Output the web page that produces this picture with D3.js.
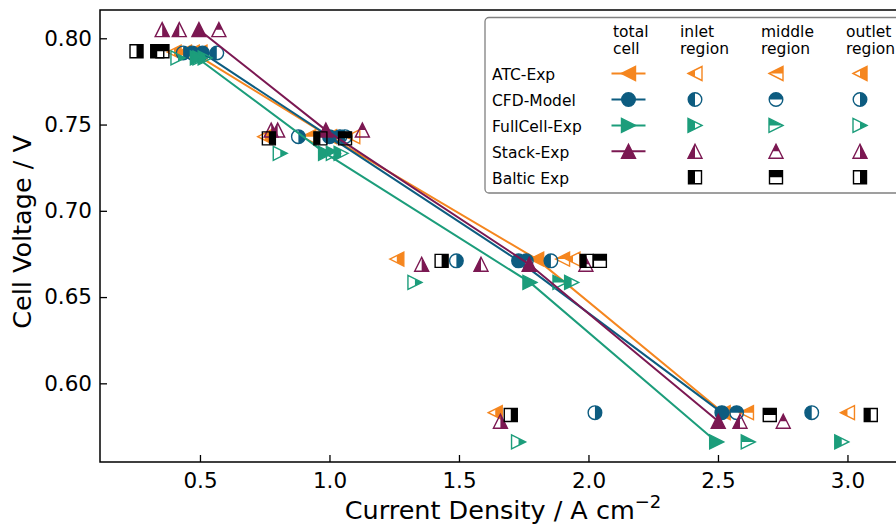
<!DOCTYPE html>
<html>
<head>
<meta charset="utf-8">
<script src="https://cdn.jsdelivr.net/npm/d3@7"></script>
<style>
  body { margin: 0; background: #fff; }
  svg { display: block; font-family: "DejaVu Sans", sans-serif; }
</style>
</head>
<body>
<svg id="chart" width="896" height="528"></svg>
<script>
// Polarisation data: cell voltage (V) against current density (A cm^-2)
const seriesNames  = ["ATC-Exp", "CFD-Model", "FullCell-Exp", "Stack-Exp", "Baltic Exp"];
const regionHeads  = [["total", "cell"], ["inlet", "region"], ["middle", "region"], ["outlet", "region"]];
const xTickValues  = [0.5, 1.0, 1.5, 2.0, 2.5, 3.0];
const yTickValues  = [0.60, 0.65, 0.70, 0.75, 0.80];

const atcVoltage    = [0.792, 0.743, 0.672, 0.583];
const atcTotal      = [0.47, 1.00, 1.80, 2.52];
const atcInlet      = [0.44, 1.09, 1.94, 3.00];
const atcMiddle     = [0.50, 0.92, 1.90, 2.61];
const atcOutlet     = [0.40, 0.75, 1.26, 1.64];

const cfdVoltage    = [0.7915, 0.743, 0.671, 0.583];
const cfdTotal      = [0.51, 1.00, 1.73, 2.515];
const cfdInlet      = [0.565, 1.06, 1.855, 2.862];
const cfdMiddle     = [0.47, 1.04, 1.76, 2.572];
const cfdOutlet     = [0.435, 0.88, 1.49, 2.025];

const fullVoltage   = [0.7886, 0.7333, 0.6585, 0.566];
const fullTotal     = [0.49, 0.985, 1.774, 2.495];
const fullInlet     = [0.52, 1.045, 1.935, 2.978];
const fullMiddle    = [0.50, 1.015, 1.89, 2.617];
const fullOutlet    = [0.415, 0.81, 1.33, 1.73];

const stackVoltage  = [0.805, 0.7468, 0.669, 0.578];
const stackTotal    = [0.496, 0.986, 1.771, 2.501];
const stackInlet    = [0.42, 0.80, 1.585, 2.585];
const stackMiddle   = [0.573, 1.127, 1.99, 2.752];
const stackOutlet   = [0.354, 0.775, 1.356, 1.66];

const balticVoltage = [0.7925, 0.742, 0.671, 0.5816];
const balticTotal   = null;
const balticInlet   = [0.335, 0.965, 1.993, 3.09];
const balticMiddle  = [0.355, 1.06, 2.044, 2.70];
const balticOutlet  = [0.255, 0.766, 1.433, 1.70];

const colors = ["#f5861f", "#0d5c80", "#1c9d7b", "#7b1852", "#000000"];
const shapes = ["triangle-left", "circle", "triangle-right", "triangle-up", "square"];

const series = [
  { voltage: atcVoltage,    total: atcTotal,    inlet: atcInlet,    middle: atcMiddle,    outlet: atcOutlet },
  { voltage: cfdVoltage,    total: cfdTotal,    inlet: cfdInlet,    middle: cfdMiddle,    outlet: cfdOutlet },
  { voltage: fullVoltage,   total: fullTotal,   inlet: fullInlet,   middle: fullMiddle,   outlet: fullOutlet },
  { voltage: stackVoltage,  total: stackTotal,  inlet: stackInlet,  middle: stackMiddle,  outlet: stackOutlet },
  { voltage: balticVoltage, total: balticTotal, inlet: balticInlet, middle: balticMiddle, outlet: balticOutlet }
].map((s, i) => ({ ...s, name: seriesNames[i], color: colors[i], shape: shapes[i] }));

const svg = d3.select("#chart");
const plot = { left: 100, right: 906, top: 10, bottom: 462 };

const x = d3.scaleLinear().domain([0.114, 3.226]).range([plot.left, plot.right]);
const y = d3.scaleLinear().domain([0.5544, 0.8164]).range([plot.bottom, plot.top]);

// half-fill clip regions, in each marker's local coordinates
const defs = svg.append("defs");
defs.append("clipPath").attr("id", "half-left").attr("clipPathUnits", "userSpaceOnUse")
  .append("rect").attr("x", -20).attr("y", -20).attr("width", 20).attr("height", 40);
defs.append("clipPath").attr("id", "half-right").attr("clipPathUnits", "userSpaceOnUse")
  .append("rect").attr("x", 0).attr("y", -20).attr("width", 20).attr("height", 40);
defs.append("clipPath").attr("id", "half-top").attr("clipPathUnits", "userSpaceOnUse")
  .append("rect").attr("x", -20).attr("y", -20).attr("width", 40).attr("height", 20);

function shapePath(shape) {
  const s = 7;
  switch (shape) {
    case "triangle-left":  return `M${-s},0L${s},${-s}L${s},${s}Z`;
    case "triangle-right": return `M${s},0L${-s},${-s}L${-s},${s}Z`;
    case "triangle-up":    return `M0,${-s}L${s},${s}L${-s},${s}Z`;
    case "square": { const h = 6.5; return `M${-h},${-h}H${h}V${h}H${-h}Z`; }
    default: return d3.symbol(d3.symbolCircle, Math.PI * 6.8 * 6.8)();
  }
}

function drawMarkers(sel, shape, color) {
  sel.append("path")
    .attr("d", shapePath(shape))
    .attr("fill", color)
    .attr("clip-path", d => d.fill === "full" ? null : `url(#half-${d.fill})`);
  sel.append("path")
    .attr("d", shapePath(shape))
    .attr("fill", "none")
    .attr("stroke", color)
    .attr("stroke-width", 1.4)
    .attr("stroke-linejoin", "miter");
}

// axes frame and ticks
const gx = svg.append("g").attr("transform", `translate(0,${plot.bottom})`)
  .call(d3.axisBottom(x).tickValues(xTickValues).tickFormat(d3.format(".1f"))
    .tickSizeInner(-7).tickSizeOuter(0).tickPadding(11));
const gy = svg.append("g").attr("transform", `translate(${plot.left},0)`)
  .call(d3.axisLeft(y).tickValues(yTickValues).tickFormat(d3.format(".2f"))
    .tickSizeInner(-7).tickSizeOuter(0).tickPadding(8));
[gx, gy].forEach(g => {
  g.select(".domain").remove();
  g.selectAll("line").attr("stroke", "#000").attr("stroke-width", 1.3);
  g.selectAll("text").attr("fill", "#000").attr("font-size", 21.5)
    .attr("font-family", "DejaVu Sans, sans-serif");
});
svg.append("path")
  .attr("d", `M${plot.right},${plot.top}H${plot.left}V${plot.bottom}H${plot.right}`)
  .attr("fill", "none").attr("stroke", "#000").attr("stroke-width", 1.5);

// axis titles
svg.append("text")
  .attr("transform", `translate(31,232) rotate(-90)`)
  .attr("text-anchor", "middle").attr("font-size", 25.5)
  .text("Cell Voltage / V");
const xl = svg.append("text")
  .attr("x", 503).attr("y", 519)
  .attr("text-anchor", "middle").attr("font-size", 25.5);
xl.append("tspan").text("Current Density / A cm");
xl.append("tspan").attr("font-size", 18).attr("dy", -11).text("\u22122");

// data: lines through the total-cell points, then markers per region
const plotArea = svg.append("g");
series.forEach(s => {
  if (s.total) {
    const pts = s.total.map((t, k) => [t, s.voltage[k]]);
    plotArea.append("path")
      .datum(pts)
      .attr("d", d3.line().x(d => x(d[0])).y(d => y(d[1])))
      .attr("fill", "none").attr("stroke", s.color).attr("stroke-width", 2);
  }
  const groups = [["full", s.total], ["left", s.inlet], ["top", s.middle], ["right", s.outlet]];
  groups.forEach(([fill, arr]) => {
    if (!arr) return;
    const pts = arr.map((xv, k) => ({ x: xv, v: s.voltage[k], fill }));
    const m = plotArea.append("g").selectAll("g").data(pts).join("g")
      .attr("transform", d => `translate(${x(d.x)},${y(d.v)})`);
    drawMarkers(m, s.shape, s.color);
  });
});

// legend table
const legend = svg.append("g");
legend.append("rect")
  .attr("x", 485).attr("y", 17.5).attr("width", 430).attr("height", 175.5)
  .attr("rx", 4).attr("fill", "#fff").attr("stroke", "#808080").attr("stroke-width", 1.3);

const headX = [613, 680, 761, 846];
const colX = [628.5, 695, 776, 860];
regionHeads.forEach((lines, j) => {
  lines.forEach((t, li) => {
    legend.append("text").attr("x", headX[j]).attr("y", 36.7 + li * 17.3)
      .attr("font-size", 15.5).text(t);
  });
});
const rowY = [73.5, 99.5, 125.4, 151.3, 177.2];
const fills = ["full", "left", "top", "right"];
series.forEach((s, i) => {
  legend.append("text").attr("x", 492).attr("y", rowY[i] + 6.3)
    .attr("font-size", 15.5).text(s.name);
  if (s.total) {
    legend.append("line").attr("x1", 611.5).attr("x2", 645.5)
      .attr("y1", rowY[i]).attr("y2", rowY[i])
      .attr("stroke", s.color).attr("stroke-width", 2);
  }
  const cells = fills.map((f, j) => ({ fill: f, cx: colX[j] }))
    .filter(c => c.fill !== "full" || s.total);
  const m = legend.append("g").selectAll("g").data(cells).join("g")
    .attr("transform", d => `translate(${d.cx},${rowY[i]})`);
  drawMarkers(m, s.shape, s.color);
});
</script>
</body>
</html>
